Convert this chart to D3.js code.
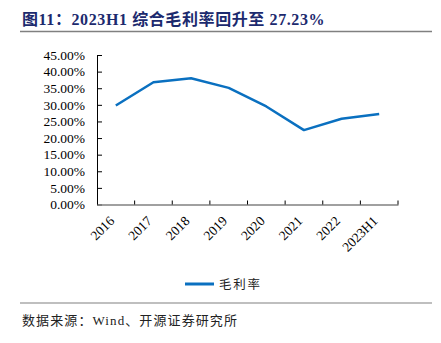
<!DOCTYPE html>
<html><head><meta charset="utf-8">
<script src="https://cdn.jsdelivr.net/npm/d3@7"></script>
<style>
body{margin:0;background:#fff;}
svg{display:block;}
</style></head>
<body>
<svg id="c" width="441" height="343"></svg>
<script>
const categories = ["2016","2017","2018","2019","2020","2021","2022","2023H1"];
const grossMargin = [29.8, 36.8, 38.0, 35.1, 29.5, 22.4, 25.8, 27.23];
const yTicks = [0,5,10,15,20,25,30,35,40,45];
const title = "图11：2023H1 综合毛利率回升至 27.23%";
const seriesName = "毛利率";
const source = "数据来源：Wind、开源证券研究所";

const svg = d3.select("#c");
const serif = "'Liberation Serif','Times New Roman',serif";
const cjk = "'Noto Sans CJK SC',sans-serif";

// title
svg.append("text").attr("x",22).attr("y",25)
  .attr("font-family", serif + ",'Noto Sans CJK SC'")
  .attr("font-weight","bold").attr("font-size",16).attr("letter-spacing",0.6).attr("fill","#1c2a6e")
  .text(title);
svg.append("line").attr("x1",20).attr("x2",432).attr("y1",31.5).attr("y2",31.5)
  .attr("stroke","#808080").attr("stroke-width",1.5);

const x = d3.scaleBand().domain(categories).range([97,398]);
const y = d3.scaleLinear().domain([0,45]).range([204.5,55]);

// y axis
const yAxis = d3.axisLeft(y).tickValues(yTicks).tickSize(5).tickSizeOuter(0)
  .tickFormat(d => d.toFixed(2) + "%");
const gy = svg.append("g").attr("transform","translate(97,0)").call(yAxis);
gy.select(".domain").attr("stroke","#000");
gy.selectAll(".tick line").attr("stroke","#000").attr("x2",5).attr("x1",0);
gy.selectAll(".tick text").attr("x",-12).attr("font-family",serif).attr("font-size",13.5).attr("fill","#000");

// x axis
const xAxis = d3.axisBottom(x).tickSize(0).tickSizeOuter(0);
const gx = svg.append("g").attr("transform","translate(0,204.5)").call(xAxis);
gx.select(".domain").attr("stroke","#808080").attr("stroke-width",1.5);
const bounds = categories.map(c => x(c) + x.bandwidth());
gx.selectAll(".btick").data(bounds).enter().append("line")
  .attr("x1",d=>d).attr("x2",d=>d).attr("y1",0).attr("y2",-4)
  .attr("stroke","#000");
gx.selectAll(".tick text")
  .attr("font-family",serif).attr("font-size",13.5).attr("fill","#000")
  .attr("text-anchor","end")
  .attr("transform","translate(-4,14) rotate(-45)")
  .attr("dy","0.35em").attr("y",0);

// line
const line = d3.line().x((d,i)=>x(categories[i]) + x.bandwidth()/2).y(d=>y(d));
svg.append("path").datum(grossMargin).attr("d",line)
  .attr("fill","none").attr("stroke","#0a70c0").attr("stroke-width",2.5)
  .attr("stroke-linejoin","round");

// legend
svg.append("line").attr("x1",185).attr("x2",214).attr("y1",284).attr("y2",284)
  .attr("stroke","#0a70c0").attr("stroke-width",3);
svg.append("text").attr("x",219).attr("y",289)
  .attr("font-family",cjk).attr("font-size",12.5).attr("letter-spacing",1.8).attr("fill","#222").text(seriesName);

// source
svg.append("line").attr("x1",20).attr("x2",432).attr("y1",303).attr("y2",303)
  .attr("stroke","#808080").attr("stroke-width",1.2);
svg.append("text").attr("x",22).attr("y",325)
  .attr("font-family", "'Liberation Serif'," + cjk).attr("font-size",13).attr("letter-spacing",1.1).attr("fill","#222").text(source);
</script>
</body></html>
